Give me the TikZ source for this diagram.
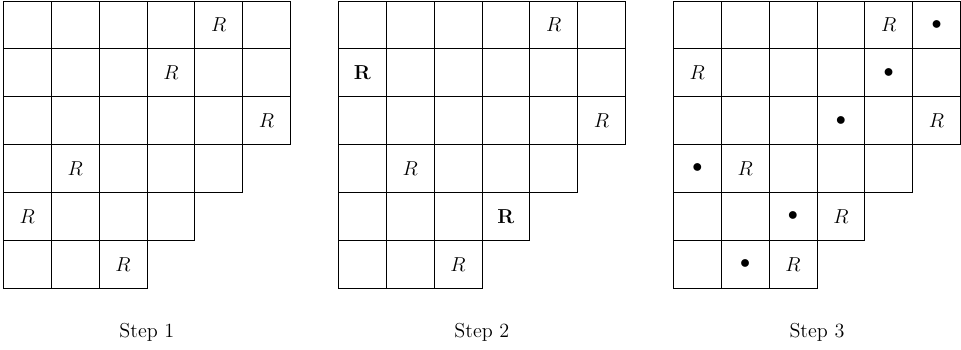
\documentclass[tikz,border=0pt]{standalone}
\begin{document}
\begin{tikzpicture}[x=1cm,y=1cm,
  cell/.style={draw, line width=0.5pt, minimum size=1cm, inner sep=0pt, outer sep=0pt},
  mark/.style={},
  entry/.style={font=\fontsize{12}{14}\selectfont, inner sep=0pt},
  steplabel/.style={font=\fontsize{12}{14}\selectfont}]
\useasboundingbox (-0.07,0.02) rectangle (20.01,-7.29);
\foreach \d in {0,1,2} {
  \foreach \r/\n in {1/6,2/6,3/6,4/5,5/4,6/3} {
    \foreach \c in {1,...,\n} {
      \node[cell] (g\d-\r-\c) at ({7*\d+\c-0.5},{-\r+0.5}) {};
    }
  }
}
% Step 1
\foreach \r/\c in {1/5,2/4,3/6,4/2,5/1,6/3}
  \node[entry] (e0-\r-\c) at (g0-\r-\c) {$R$};
% Step 2
\foreach \r/\c in {1/5,3/6,4/2,6/3}
  \node[entry] (e1-\r-\c) at (g1-\r-\c) {$R$};
\foreach \r/\c in {2/1,5/4}
  \node[entry] (e1-\r-\c) at (g1-\r-\c) {$\mathbf{R}$};
% Step 3
\foreach \r/\c in {1/5,2/1,3/6,4/2,5/4,6/3}
  \node[entry] (e2-\r-\c) at (g2-\r-\c) {$R$};
\foreach \r/\c in {1/6,2/5,3/4,4/1,5/3,6/2}
  \node[entry] (e2-\r-\c) at (g2-\r-\c) {$\bullet$};
\node[steplabel] (s1) at (3,-6.93) {Step 1};
\node[steplabel] (s2) at (10,-6.93) {Step 2};
\node[steplabel] (s3) at (17,-6.93) {Step 3};
\end{tikzpicture}
\end{document}
